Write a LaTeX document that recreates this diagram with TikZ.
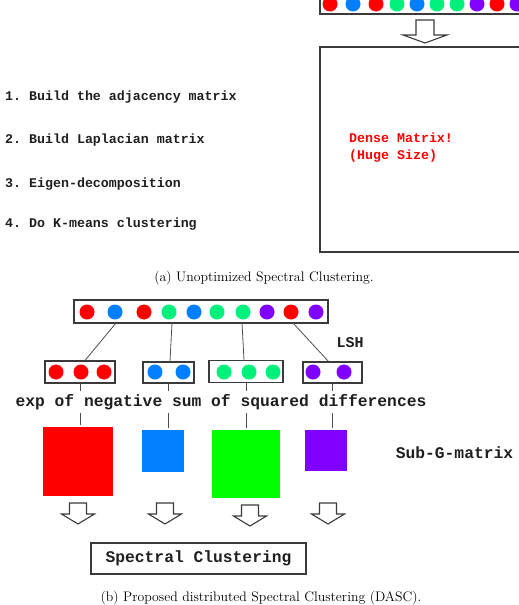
\documentclass[tikz,border=0pt]{standalone}
\usepackage{fontspec}
\setmonofont{Liberation Mono}
\definecolor{dotred}{HTML}{FF0000}
\definecolor{dotblue}{HTML}{0080FF}
\definecolor{dotgreen}{HTML}{00F07C}
\definecolor{dotpurple}{HTML}{8000FF}
\definecolor{sqgreen}{HTML}{00FF00}
\definecolor{inkgray}{HTML}{3A3A3A}
\begin{document}
\begin{tikzpicture}[x=1pt,y=-1pt,
    boxline/.style={draw=inkgray,line width=1.1pt},
    grpbox/.style={boxline,inner sep=0pt},
    link/.style={draw=inkgray!90,line width=0.8pt},
    codetext/.style={inner sep=0pt,text=black!88,font=\ttfamily\bfseries\fontsize{13.3}{17}\selectfont},
    bigcode/.style={text=black!88,font=\ttfamily\bfseries\fontsize{16.3}{19}\selectfont},
    captext/.style={inner sep=0pt,font=\fontsize{13.8}{16}\selectfont}]
    \useasboundingbox (0,0) rectangle (519,605);
    % (a) unoptimized version
    \draw[boxline] (320,-3) rectangle (530,14);
    \foreach \x/\c in {330/dotred,353/dotblue,376/dotred,397/dotgreen,417/dotblue,437/dotgreen,457/dotgreen,477/dotpurple,497/dotred,517/dotpurple}{
        \fill[\c] (\x,4) circle (7.5pt);
    }
    \draw[boxline] (416,20) -- (434,20) -- (434,35) -- (447,35) -- (425,43) -- (403,35) -- (416,35) -- cycle;
    \draw[boxline] (320,47) rectangle (530,252);
    \node[codetext,text=dotred,anchor=west,align=left] (dense) at (349,148) {Dense Matrix!\\(Huge Size)};
    \node[codetext,anchor=west] (stepA) at (5,97) {1. Build the adjacency matrix};
    \node[codetext,anchor=west] (stepB) at (5,140) {2. Build Laplacian matrix};
    \node[codetext,anchor=west] (stepC) at (5,184) {3. Eigen-decomposition};
    \node[codetext,anchor=west] (stepD) at (5,224) {4. Do K-means clustering};
    \node[captext] (capA) at (264,278) {(a) Unoptimized Spectral Clustering.};
    % (b) distributed version
    \node[grpbox,minimum width=254,minimum height=23] (allpts) at (201,311.5) {};
    \foreach \x/\c in {87/dotred,115/dotblue,144/dotred,169/dotgreen,194/dotblue,217/dotgreen,243/dotgreen,267/dotpurple,291/dotred,316/dotpurple}{
        \fill[\c] (\x,312) circle (7.5pt);
    }
    \node[grpbox,minimum width=70,minimum height=22] (redgrp) at (80,372) {};
    \node[grpbox,minimum width=51,minimum height=21] (bluegrp) at (168.5,372.5) {};
    \node[grpbox,minimum width=74,minimum height=22] (greengrp) at (246,371.5) {};
    \node[grpbox,minimum width=59,minimum height=21] (purplegrp) at (332.5,372.5) {};
    \foreach \x/\c in {56/dotred,81/dotred,104/dotred,155/dotblue,183/dotblue,224/dotgreen,249/dotgreen,273/dotgreen,313/dotpurple,344/dotpurple}{
        \fill[\c] (\x,372) circle (7.5pt);
    }
    \coordinate (splitA) at (116,323);
    \coordinate (splitB) at (172,323);
    \coordinate (splitC) at (242,323);
    \coordinate (splitD) at (293,323);
    \draw[link] (splitA) -- ([xshift=5pt]redgrp.north);
    \draw[link] (splitB) -- ([xshift=1.5pt]bluegrp.north);
    \draw[link] (splitC) -- ([xshift=-2pt]greengrp.north);
    \draw[link] (splitD) -- ([xshift=-4pt]purplegrp.north);
    \node[bigcode,inner sep=0pt,font=\ttfamily\bfseries\fontsize{15}{18}\selectfont] (lsh) at (350,343) {LSH};
    \node[bigcode,inner sep=3pt] (expline) at (221,402) {exp of negative sum of squared differences};
    \node[fill=dotred,minimum width=70,minimum height=69] (sqred) at (78,461.5) {};
    \node[fill=dotblue,minimum width=42,minimum height=42] (sqblue) at (163,451) {};
    \node[fill=sqgreen,minimum width=68,minimum height=68] (sqgreen) at (246,464) {};
    \node[fill=dotpurple,minimum width=42,minimum height=41] (sqpurple) at (326,450.5) {};
    \foreach \g/\s in {redgrp/sqred,bluegrp/sqblue,greengrp/sqgreen,purplegrp/sqpurple}{
        \draw[link] (\g.south) -- (\g.south |- expline.north);
        \draw[link,shorten >=2pt] (\g.south |- expline.south) -- (\g.south |- \s.north);
    }
    \node[bigcode,inner sep=0pt] (subg) at (454.5,453) {Sub-G-matrix};
    \foreach \x/\y in {78/503,165/503,250/505,328/503}{
        \draw[boxline] (\x-8.5,\y) -- (\x+8.5,\y) -- (\x+8.5,\y+11) -- (\x+16.5,\y+11) -- (\x,\y+21) -- (\x-16.5,\y+11) -- (\x-8.5,\y+11) -- cycle;
    }
    \node[boxline,bigcode,minimum width=215,minimum height=31] (spectral) at (198.5,558.5) {Spectral Clustering};
    \node[captext] (capB) at (261,598) {(b) Proposed distributed Spectral Clustering (DASC).};
\end{tikzpicture}
\end{document}
